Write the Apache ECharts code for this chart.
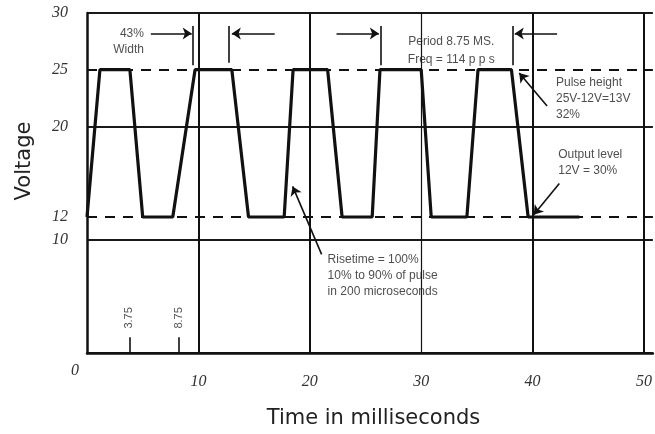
<!DOCTYPE html>
<html>
<head>
<meta charset="utf-8">
<script src="https://cdn.jsdelivr.net/npm/echarts@6/dist/echarts.min.js"></script>
<style>
html, body { margin: 0; padding: 0; background: #fff; }
#chart { width: 655px; height: 434px; }
</style>
</head>
<body>
<div id="chart"></div>
<script>
// pulse train: time in ms, level in volts
const pulseTime = [0, 1.16, 3.85, 5.0, 7.7, 9.7, 13.0, 14.5, 17.7, 18.5, 21.6, 22.9, 25.6, 26.3, 30.0, 30.9, 34.1, 35.1, 38.1, 39.6, 44.2];
const pulseVolt = [12, 25, 25, 12, 12, 25, 25, 12, 12, 25, 25, 12, 12, 25, 25, 12, 12, 25, 25, 12, 12];

const yTickLabels = [10, 12, 20, 25, 30];
const xTickLabels = [10, 20, 30, 40, 50];
const dashedLevels = [25, 12];
const gridTimes = [10, 20, 30, 40, 50];
const gridWidths = [2, 2, 1.2, 2, 2];

// small marks on the time axis
const markTickTime = [3.8, 8.25];
const markTickText = ['3.75', '8.75'];

// arrows [from, to] in data units
const arrows = [
  [[5.73, 28.2], [9.4, 28.2]],
  [[16.85, 28.2], [13.0, 28.2]],
  [[22.4, 28.2], [26.2, 28.2]],
  [[42.2, 28.2], [38.4, 28.2]],
  [[41.3, 21.8], [38.8, 24.7]],
  [[42.4, 14.95], [40.1, 12.2]],
  [[21.06, 8.7], [18.46, 14.7]]
];
// short vertical bars marking width / period
const bars = [
  [[9.5, 28.85], [9.5, 25.4]],
  [[12.7, 28.85], [12.7, 25.6]],
  [[26.35, 28.85], [26.35, 25.4]],
  [[38.2, 28.85], [38.2, 25.4]]
];

const noteText = [
  '43%\nWidth',
  'Period 8.75 MS.\nFreq = 114 p p s',
  'Pulse height\n25V-12V=13V\n32%',
  'Output level\n12V = 30%',
  'Risetime = 100%\n10% to 90% of pulse\nin 200 microseconds'
];
const notePos = [[5.11, 28.9], [32.7, 28.25], [42.1, 24.6], [42.3, 18.2], [21.6, 8.97]];
const noteAlign = ['right', 'center', 'left', 'left', 'left'];

const noteFont = '"Liberation Sans", Arial, sans-serif';
const tickFont = '"Liberation Serif", "DejaVu Serif", serif';

const chart = echarts.init(document.getElementById('chart'));

const noteData = noteText.map((t, i) => ({
  value: notePos[i],
  label: {
    show: true,
    position: [0, 0],
    formatter: t,
    align: noteAlign[i],
    verticalAlign: 'top',
    lineHeight: i === 1 ? 18 : 16
  }
}));
const tickLabelData = markTickTime.map((x, i) => ({
  value: [x, 3.1],
  label: {
    show: true,
    position: [0, 0],
    formatter: markTickText[i],
    rotate: 90,
    align: 'center',
    verticalAlign: 'middle',
    fontSize: 11
  }
}));

chart.setOption({
  animation: false,
  grid: { left: 87, right: 1, top: 13, bottom: 80 },
  xAxis: {
    type: 'value',
    min: 0,
    max: 50.8,
    interval: 10,
    name: 'Time in milliseconds',
    nameLocation: 'middle',
    nameGap: 55,
    nameTextStyle: { fontFamily: '"DejaVu Sans", sans-serif', fontSize: 21, color: '#222', padding: [0, 0, 0, 7] },
    axisLine: { lineStyle: { color: '#111', width: 2.5 } },
    axisTick: { show: false },
    splitLine: { show: false },
    axisLabel: {
      customValues: xTickLabels,
      margin: 21,
      fontFamily: tickFont,
      fontStyle: 'italic',
      fontSize: 16,
      color: '#333'
    }
  },
  yAxis: {
    type: 'value',
    min: 0,
    max: 30,
    interval: 10,
    name: 'Voltage',
    nameLocation: 'middle',
    nameGap: 52,
    nameTextStyle: { fontFamily: '"DejaVu Sans", sans-serif', fontSize: 21, color: '#222', padding: [0, 0, 0, 44] },
    axisLine: { lineStyle: { color: '#111', width: 2.5 } },
    axisTick: { show: false },
    splitLine: { lineStyle: { color: '#1a1a1a', width: 2 } },
    axisLabel: {
      customValues: yTickLabels,
      margin: 19,
      fontFamily: tickFont,
      fontStyle: 'italic',
      fontSize: 16,
      color: '#333'
    }
  },
  series: [
    {
      type: 'line',
      data: pulseTime.map((t, i) => [t, pulseVolt[i]]),
      symbol: 'none',
      lineStyle: { color: '#111', width: 3.2 },
      z: 5,
      markLine: {
        silent: true,
        symbol: 'none',
        label: { show: false },
        data: dashedLevels.map(v => ({ yAxis: v, lineStyle: { color: '#111', width: 2, type: [10, 8] } }))
          .concat(gridTimes.map((t, i) => ({ xAxis: t, lineStyle: { color: '#111', width: gridWidths[i], type: 'solid' } })))
      }
    },
    {
      type: 'lines',
      coordinateSystem: 'cartesian2d',
      symbol: ['none', 'arrow'],
      symbolSize: 9,
      lineStyle: { color: '#111', width: 1.6, opacity: 1 },
      data: arrows.map(a => ({ coords: a })),
      z: 6
    },
    {
      type: 'lines',
      coordinateSystem: 'cartesian2d',
      symbol: 'none',
      lineStyle: { color: '#111', width: 1.6, opacity: 1 },
      data: bars.map(a => ({ coords: a }))
        .concat(markTickTime.map(x => ({ coords: [[x, 0], [x, 1.4]] }))),
      z: 6
    },
    {
      type: 'scatter',
      symbolSize: 0,
      silent: true,
      label: { fontFamily: noteFont, fontSize: 12, color: '#222' },
      data: noteData.concat(tickLabelData),
      z: 7
    }
  ]
});

const origin = chart.convertToPixel({ gridIndex: 0 }, [0, 0]);
chart.setOption({
  graphic: [{
    type: 'text',
    x: origin[0] - 12,
    y: origin[1] + 18,
    style: { text: '0', fontFamily: tickFont, fontStyle: 'italic', fontSize: 16, fill: '#333', align: 'center', verticalAlign: 'middle' }
  }]
});
</script>
</body>
</html>
